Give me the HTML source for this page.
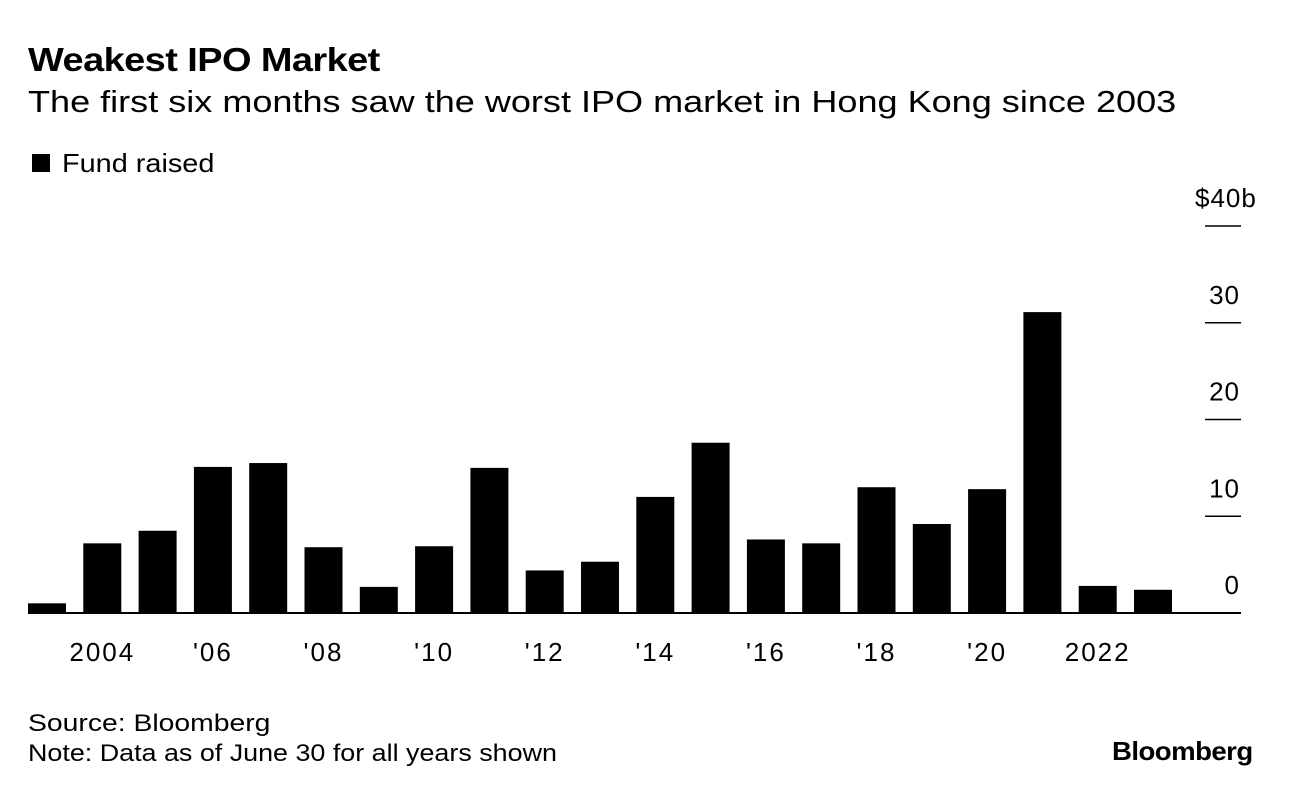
<!DOCTYPE html>
<html><head><meta charset="utf-8">
<style>
body{margin:0;width:1292px;height:796px;background:#fff;font-family:"Liberation Sans",sans-serif;color:#000;overflow:hidden;position:relative}
.t{position:absolute;white-space:nowrap;transform-origin:0 50%}
</style></head><body>
<div class="t" style="left:28px;top:41px;font-size:33px;font-weight:bold;letter-spacing:-0.5px;transform:scaleX(1.15)">Weakest IPO Market</div>
<div class="t" style="left:28px;top:84px;font-size:31px;transform:scaleX(1.163)">The first six months saw the worst IPO market in Hong Kong since 2003</div>
<div class="t" style="left:32px;top:148px;font-size:26px"><span style="display:inline-block;width:18px;height:18px;background:#000;margin-right:12px;vertical-align:0px"></span><span style="display:inline-block;transform:scaleX(1.11);transform-origin:0 50%">Fund raised</span></div>
<svg id="chart" width="1292" height="796" style="position:absolute;left:0;top:0"></svg>
<div class="t" style="left:28px;top:710px;font-size:24px;transform:scaleX(1.18)">Source: Bloomberg</div>
<div class="t" style="left:28px;top:740px;font-size:24px;transform:scaleX(1.12)">Note: Data as of June 30 for all years shown</div>
<div class="t" style="left:1112px;top:736px;font-size:26px;font-weight:bold;letter-spacing:-0.5px;transform:scaleX(1.06)">Bloomberg</div>
<script>
const years=[2003,2004,2005,2006,2007,2008,2009,2010,2011,2012,2013,2014,2015,2016,2017,2018,2019,2020,2021,2022,2023];
const values=[1.0,7.2,8.5,15.1,15.5,6.8,2.7,6.9,15.0,4.4,5.3,12.0,17.6,7.6,7.2,13.0,9.2,12.8,31.1,2.8,2.4];
const yTicks=[0,10,20,30,40];
const yTickLabels=["0","10","20","30","$40b"];
const xLabelYears=[2004,2006,2008,2010,2012,2014,2016,2018,2020,2022];
const xLabels=["2004","'06","'08","'10","'12","'14","'16","'18","'20","2022"];
const svg=document.getElementById('chart');
const NS='http://www.w3.org/2000/svg';
const y0=613, pxPer=(613-226)/40;
const yScale=v=>y0-v*pxPer;
const step=55.3, bw=38, x0=28;
const xScale=yr=>x0+(yr-2003)*step;
function mk(tag,attrs){const e=document.createElementNS(NS,tag);for(const k in attrs)e.setAttribute(k,attrs[k]);svg.appendChild(e);return e;}
values.forEach((v,i)=>{
 const r=mk('rect',{x:xScale(years[i]),y:yScale(v),width:bw,height:y0-yScale(v),fill:'#000'});
 
 
});
yTicks.forEach((t,i)=>{
 const y=yScale(t);
 const l=mk('line',{x1:t===0?28:1205,x2:1241,y1:y,y2:y,stroke:'#000','stroke-width':t===0?2:1.5});
 
 
 const isTop=(i===yTicks.length-1);
 const tx=mk('text',{x:isTop?1195:1240,y:y-19,'text-anchor':isTop?'start':'end','font-size':26,'letter-spacing':1,'font-family':'Liberation Sans, sans-serif'});
 tx.textContent=yTickLabels[i];
 
 
});
xLabelYears.forEach((yr,i)=>{
 const tx=mk('text',{x:xScale(yr)+bw/2,y:661,'text-anchor':'middle','font-size':26,'letter-spacing':2,'font-family':'Liberation Sans, sans-serif'});
 tx.textContent=xLabels[i];
 
 
});
</script>
</body></html>
